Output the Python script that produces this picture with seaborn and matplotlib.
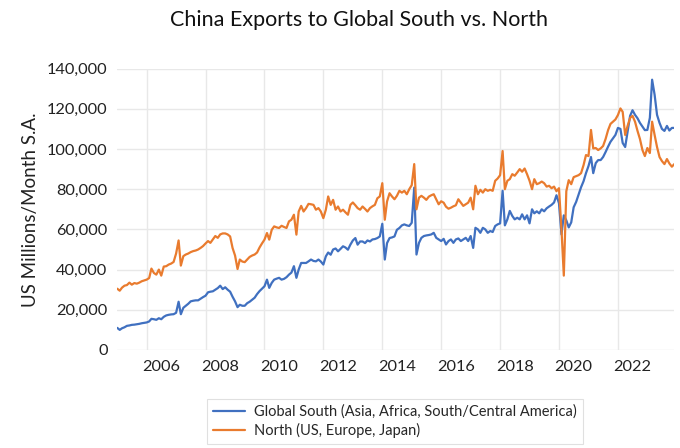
import matplotlib
matplotlib.use("Agg")
import matplotlib.pyplot as plt
from matplotlib.ticker import FuncFormatter, MultipleLocator
import pandas as pd
import seaborn as sns

# ── data (US$ millions per month, seasonally adjusted, Jan 2005 – Dec 2023) ──
START_MONTH = "2005-01-01"

south = [
    11.0, 10.0, 10.8, 11.3, 12.0, 12.2, 12.5, 12.6, 12.8, 13.0, 13.3, 13.5,   # 2005
    13.7, 14.2, 15.5, 15.3, 15.0, 15.8, 15.3, 16.5, 17.2, 17.5, 17.7, 17.8,   # 2006
    18.5, 24.0, 17.8, 21.0, 22.0, 23.0, 24.2, 24.5, 24.7, 24.7, 25.5, 26.3,   # 2007
    27.0, 28.7, 29.0, 29.2, 30.0, 30.8, 32.0, 30.3, 31.2, 30.0, 29.0, 26.5,   # 2008
    24.2, 21.3, 22.5, 22.0, 22.0, 23.3, 24.0, 25.0, 26.0, 27.8, 29.3, 30.5,   # 2009
    31.7, 35.0, 30.9, 33.4, 35.0, 35.5, 35.9, 35.0, 35.4, 36.2, 37.5, 38.5,   # 2010
    41.7, 35.9, 40.0, 43.3, 43.3, 43.3, 44.1, 45.0, 44.3, 44.1, 45.0, 44.0,   # 2011
    42.5, 46.6, 48.5, 47.4, 50.0, 50.5, 49.1, 50.3, 51.6, 51.0, 49.9, 52.4,   # 2012
    54.5, 55.7, 52.4, 54.0, 54.0, 53.2, 54.5, 54.0, 55.0, 55.2, 55.7, 56.5,   # 2013
    62.8, 45.0, 53.2, 55.7, 56.0, 56.5, 59.8, 60.7, 62.0, 62.5, 62.0, 61.7,   # 2014
    63.3, 80.8, 47.5, 53.3, 55.8, 56.7, 57.0, 57.2, 57.5, 58.3, 55.8, 55.0,   # 2015
    54.2, 55.3, 52.5, 54.2, 55.0, 53.3, 55.0, 55.5, 54.2, 55.0, 55.8, 54.2,   # 2016
    56.7, 50.8, 60.8, 60.0, 58.3, 60.8, 60.0, 58.3, 59.2, 58.7, 61.7, 62.5,   # 2017
    63.0, 79.2, 62.0, 65.0, 69.2, 66.7, 65.0, 65.8, 65.0, 67.5, 65.0, 67.0,   # 2018
    63.0, 70.0, 68.0, 69.0, 68.0, 70.0, 69.0, 70.5, 71.4, 72.2, 73.4, 77.0,   # 2019
    73.0, 57.5, 67.0, 64.5, 61.0, 63.5, 71.0, 73.7, 77.5, 81.0, 84.0, 88.0,   # 2020
    91.5, 96.0, 88.0, 93.0, 94.5, 94.5, 96.0, 98.5, 101.2, 103.6, 105.3, 107.0,  # 2021
    110.5, 110.0, 103.0, 101.0, 108.5, 116.5, 119.3, 117.0, 115.3, 113.0, 111.2, 109.4,  # 2022
    109.5, 115.5, 134.5, 127.0, 117.0, 113.0, 110.0, 109.0, 111.5, 109.2, 110.5, 110.5,  # 2023
]

north = [
    30.5, 29.5, 31.0, 32.0, 32.3, 33.5, 32.5, 33.3, 33.0, 33.5, 34.2, 34.6,   # 2005
    35.0, 35.8, 40.5, 38.3, 37.5, 40.0, 37.0, 41.5, 41.7, 42.5, 43.0, 43.8,   # 2006
    48.0, 54.5, 42.0, 46.7, 47.5, 48.0, 48.7, 49.2, 49.5, 50.0, 50.8, 51.7,   # 2007
    53.0, 54.2, 53.3, 55.0, 56.7, 55.8, 57.5, 58.0, 58.0, 57.5, 56.5, 50.8,   # 2008
    47.0, 40.3, 45.0, 44.0, 43.7, 45.0, 46.3, 47.0, 47.5, 48.5, 51.0, 53.0,   # 2009
    54.9, 58.2, 54.9, 59.8, 61.5, 61.0, 60.7, 61.8, 61.2, 60.7, 64.0, 64.8,   # 2010
    67.3, 57.4, 68.9, 71.7, 68.9, 70.6, 72.7, 72.5, 72.2, 69.8, 70.6, 68.9,   # 2011
    65.6, 69.8, 76.4, 72.2, 74.7, 69.8, 71.4, 68.9, 69.8, 68.5, 67.3, 72.2,   # 2012
    73.4, 72.0, 70.6, 69.8, 71.4, 70.2, 68.9, 70.6, 71.5, 72.2, 75.5, 76.4,   # 2013
    83.0, 64.8, 73.9, 78.0, 76.4, 75.0, 76.7, 79.2, 78.3, 79.2, 77.5, 80.0,   # 2014
    82.0, 92.5, 70.0, 75.8, 76.7, 75.8, 74.7, 76.3, 77.0, 77.5, 75.0, 72.5,   # 2015
    74.0, 73.3, 71.3, 70.3, 70.8, 71.5, 72.0, 75.0, 73.3, 71.7, 72.5, 73.3,   # 2016
    75.8, 70.0, 81.7, 77.5, 79.7, 78.3, 80.0, 79.2, 79.7, 79.2, 84.2, 85.3,   # 2017
    87.0, 99.0, 80.0, 84.2, 85.0, 87.5, 86.7, 88.3, 90.0, 88.7, 90.3, 87.5,   # 2018
    84.2, 80.0, 85.0, 82.5, 83.0, 83.8, 83.0, 81.3, 81.7, 80.5, 81.3, 79.0,   # 2019
    80.5, 60.0, 37.0, 79.0, 84.5, 82.5, 86.0, 86.5, 87.0, 88.0, 92.0, 97.0,   # 2020
    96.5, 109.5, 100.3, 100.5, 99.5, 100.3, 101.5, 105.0, 109.4, 112.5, 113.6, 114.7,  # 2021
    116.9, 120.2, 118.5, 107.0, 111.5, 115.5, 116.5, 113.6, 109.0, 105.0, 99.5, 96.5,  # 2022
    100.5, 98.0, 113.6, 107.0, 101.0, 96.0, 94.0, 92.5, 95.0, 92.8, 91.2, 92.5,   # 2023
]

LABEL_SOUTH = "Global South (Asia, Africa, South/Central America)"
LABEL_NORTH = "North (US, Europe, Japan)"
C_SOUTH, C_NORTH = "#4070C0", "#E97B2E"

months = pd.date_range(START_MONTH, periods=len(south), freq="MS")
df = pd.concat([
    pd.DataFrame({"month": months, "value": [v * 1000 for v in south], "series": LABEL_SOUTH}),
    pd.DataFrame({"month": months, "value": [v * 1000 for v in north], "series": LABEL_NORTH}),
])

# ── style ──
sns.set_theme(style="white")
plt.rcParams["font.family"] = ["Lato", "DejaVu Sans"]

fig = plt.figure(figsize=(6.8, 4.48), dpi=100)
ax = fig.add_axes([0.1724, 0.2188, 0.8192, 0.628])

sns.lineplot(data=df, x="month", y="value", hue="series",
             palette={LABEL_SOUTH: C_SOUTH, LABEL_NORTH: C_NORTH},
             linewidth=1.6, ax=ax, legend=False)

ax.set_xlim(months[0], months[-1])
ax.set_ylim(0, 140000)

# gridlines at Jan of even years, labels sit half a year to the right (Excel style)
grid_years = [pd.Timestamp(f"{y}-01-01") for y in range(2006, 2024, 2)]
label_years = [pd.Timestamp(f"{y}-07-01") for y in range(2006, 2024, 2)]
ax.set_xticks(grid_years, minor=True)
ax.set_xticks(label_years)
ax.set_xticklabels([str(y) for y in range(2006, 2024, 2)])
ax.yaxis.set_major_locator(MultipleLocator(20000))
ax.yaxis.set_major_formatter(FuncFormatter(lambda v, p: f"{v:,.0f}"))

ax.grid(False)
ax.grid(axis="y", which="major", color="#e8e8e8", linewidth=1.0)
ax.grid(axis="x", which="minor", color="#e8e8e8", linewidth=1.0)
ax.tick_params(axis="both", which="both", length=0, labelsize=11.8, colors="#222222")
ax.tick_params(axis="x", pad=7)
ax.tick_params(axis="y", pad=7)
for s in ax.spines.values():
    s.set_visible(False)

ax.set_xlabel("")
ax.set_ylabel("US Millions/Month S.A.", fontsize=13.5, color="#222222", labelpad=6)

fig.text(0.528, 0.955, "China Exports to Global South vs. North",
         ha="center", va="center", fontsize=15.5, color="#111111")

handles = [plt.Line2D([], [], color=C_SOUTH, linewidth=1.6),
           plt.Line2D([], [], color=C_NORTH, linewidth=1.6)]
leg = fig.legend(handles, [LABEL_SOUTH, LABEL_NORTH], loc="center",
                 bbox_to_anchor=(0.581, 0.059), fontsize=10.5, frameon=True,
                 fancybox=False, edgecolor="#d9d9d9", handlelength=2.2,
                 handletextpad=0.6, borderpad=0.4, labelspacing=0.3)
leg.get_frame().set_linewidth(0.8)

fig.savefig("out.png", dpi=100)
